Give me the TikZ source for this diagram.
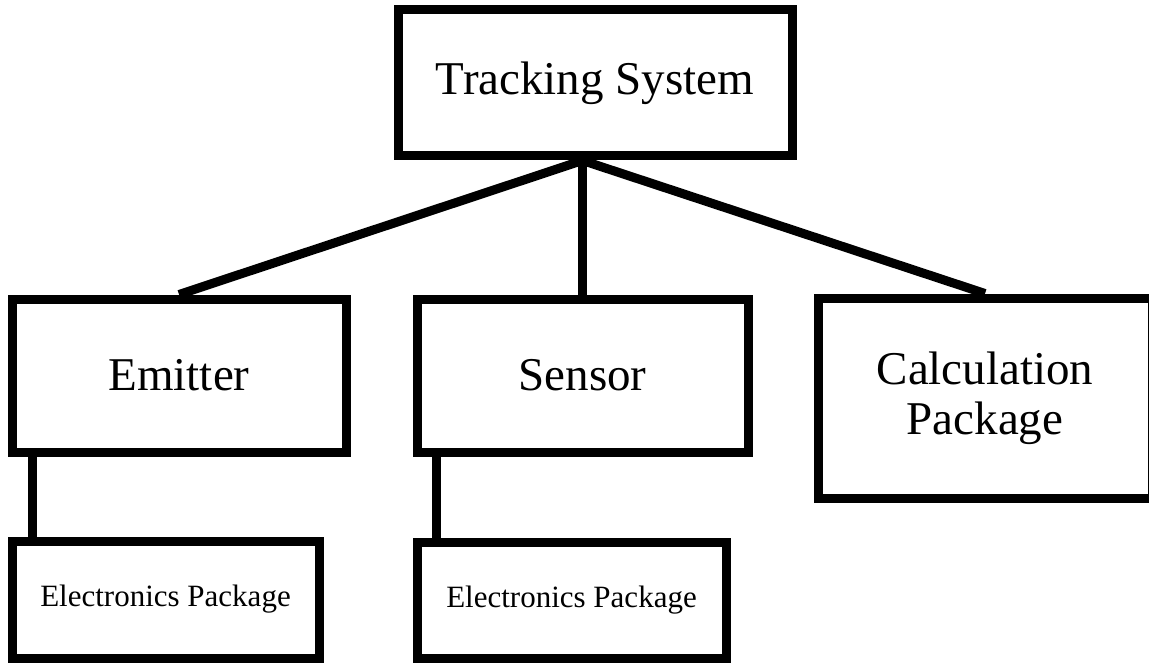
\documentclass[tikz,border=0pt]{standalone}
\usepackage{fontspec}
\setmainfont{Liberation Serif}
\usetikzlibrary{positioning}

\begin{document}
\begin{tikzpicture}[x=1pt, y=-1pt, on grid, line width=9pt, box/.style={draw, black, line width=9pt, inner sep=0pt, align=center, font=\fontsize{47}{50}\selectfont}, smallbox/.style={box, font=\fontsize{31}{34}\selectfont}]
	\useasboundingbox (0,0) rectangle (1149,663);
	
	\node[box, minimum width=394pt, minimum height=146pt] (track) at (595,83) {Tracking System};
	\node[box, minimum width=334pt, minimum height=153pt] (emit) [below left=292.5pt and 416pt of track]{Emitter};
	\node[box, minimum width=331pt, minimum height=153pt] (sens) [right=403.5pt of emit]{Sensor};
	\node[box, minimum width=334pt, minimum height=200pt] (calc) [below right=22.5pt and 402.5pt of sens]{Calculation\\Package};
	\node[smallbox, minimum width=307pt, minimum height=117pt] (elecA) [below left=224pt and 13.5pt of emit]{Electronics Package};
	\node[smallbox, minimum width=309pt, minimum height=116pt] (elecB) [below left=224.5pt and 11pt of sens]{Electronics Package};
	
	\coordinate (hub) at (track.south -| sens.north);
	\draw (hub) -- (emit.north);
	\draw (hub) -- (sens.north);
	\draw (hub) -- (calc.north);
	
	\draw ([xshift=25pt]emit.south west) -- ([xshift=25pt]elecA.north west);
	\draw ([xshift=24pt]sens.south west) -- ([xshift=24pt]elecB.north west);
	
\end{tikzpicture}
\end{document}
